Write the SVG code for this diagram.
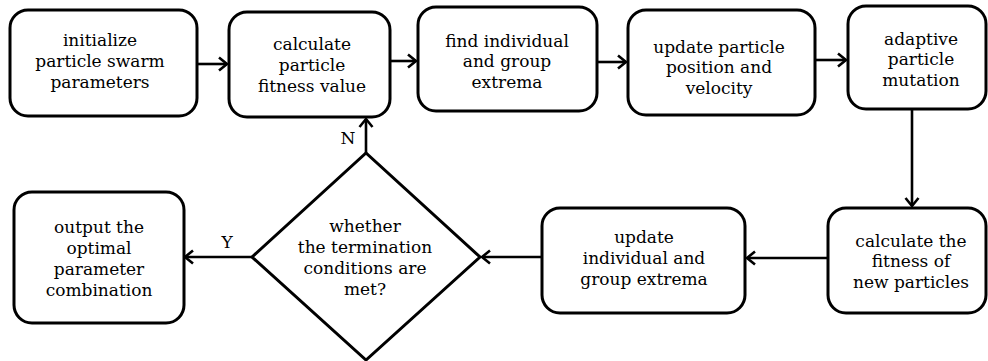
<svg xmlns="http://www.w3.org/2000/svg" width="988" height="361" viewBox="0 0 988 361">
  <style>
    .box { fill: #fff; stroke: #000; stroke-width: 3; }
    .t { font-family: 'DejaVu Serif', 'Liberation Serif', serif; font-size: 17px; fill: #000; text-anchor: middle; }
    .lbl { font-family: 'DejaVu Serif', 'Liberation Serif', serif; font-size: 17px; fill: #000; text-anchor: middle; }
    .c { fill: none; stroke: #000; stroke-width: 2.6; marker-end: url(#arr); }
  </style>
  <defs>
    <marker id="arr" markerUnits="userSpaceOnUse" viewBox="-12 -9 14 18" markerWidth="14" markerHeight="18" refX="0" refY="0" orient="auto" overflow="visible">
      <path d="M-8,-6.5 L0,0 L-8,6.5" fill="none" stroke="#000" stroke-width="2.6" stroke-linejoin="miter"/>
    </marker>
  </defs>
  <rect width="988" height="361" fill="#fff"/>

  <g id="connectors">
    <line class="c" x1="197" y1="64" x2="227" y2="64"/>
    <line class="c" x1="390" y1="61" x2="416" y2="61"/>
    <line class="c" x1="597" y1="62" x2="626" y2="62"/>
    <line class="c" x1="815" y1="60" x2="846" y2="60"/>
    <line class="c" x1="912" y1="109" x2="912" y2="206"/>
    <line class="c" x1="828" y1="258" x2="747" y2="258"/>
    <line class="c" x1="542" y1="257" x2="482" y2="257"/>
    <line class="c" x1="252" y1="257" x2="185" y2="257"/>
    <line class="c" x1="366" y1="153" x2="366" y2="119"/>
    <text class="lbl" x="348" y="144">N</text>
    <text class="lbl" x="227" y="248">Y</text>
  </g>

  <g id="n1">
    <rect class="box" x="10" y="10" width="187" height="106" rx="18"/>
    <text class="t"><tspan x="100" y="46">initialize</tspan><tspan x="100" y="67">particle swarm</tspan><tspan x="100" y="88">parameters</tspan></text>
  </g>
  <g id="n2">
    <rect class="box" x="229" y="12" width="161" height="105" rx="18"/>
    <text class="t"><tspan x="312" y="50">calculate</tspan><tspan x="312" y="71">particle</tspan><tspan x="312" y="92">fitness value</tspan></text>
  </g>
  <g id="n3">
    <rect class="box" x="418" y="7" width="179" height="104" rx="18"/>
    <text class="t"><tspan x="507" y="47">find individual</tspan><tspan x="507" y="67">and group</tspan><tspan x="507" y="88">extrema</tspan></text>
  </g>
  <g id="n4">
    <rect class="box" x="628" y="10" width="187" height="105" rx="18"/>
    <text class="t"><tspan x="719" y="53">update particle</tspan><tspan x="719" y="73">position and</tspan><tspan x="719" y="94">velocity</tspan></text>
  </g>
  <g id="n5">
    <rect class="box" x="848" y="6" width="138" height="103" rx="18"/>
    <text class="t"><tspan x="921" y="45">adaptive</tspan><tspan x="921" y="65">particle</tspan><tspan x="921" y="86">mutation</tspan></text>
  </g>
  <g id="n6">
    <rect class="box" x="828" y="208" width="158" height="105" rx="18"/>
    <text class="t"><tspan x="911" y="247">calculate the</tspan><tspan x="911" y="267">fitness of</tspan><tspan x="911" y="288">new particles</tspan></text>
  </g>
  <g id="n7">
    <rect class="box" x="542" y="208" width="203" height="105" rx="18"/>
    <text class="t"><tspan x="644" y="243">update</tspan><tspan x="644" y="264">individual and</tspan><tspan x="644" y="285">group extrema</tspan></text>
  </g>
  <g id="n8">
    <path class="box" d="M252,257 L366,153 L480,257 L366,360 Z" stroke-linejoin="miter"/>
    <text class="t"><tspan x="365" y="232">whether</tspan><tspan x="365" y="253">the termination</tspan><tspan x="365" y="274">conditions are</tspan><tspan x="365" y="295">met?</tspan></text>
  </g>
  <g id="n9">
    <rect class="box" x="14" y="192" width="170" height="131" rx="18"/>
    <text class="t"><tspan x="99" y="233">output the</tspan><tspan x="99" y="254">optimal</tspan><tspan x="99" y="275">parameter</tspan><tspan x="99" y="296">combination</tspan></text>
  </g>
</svg>
